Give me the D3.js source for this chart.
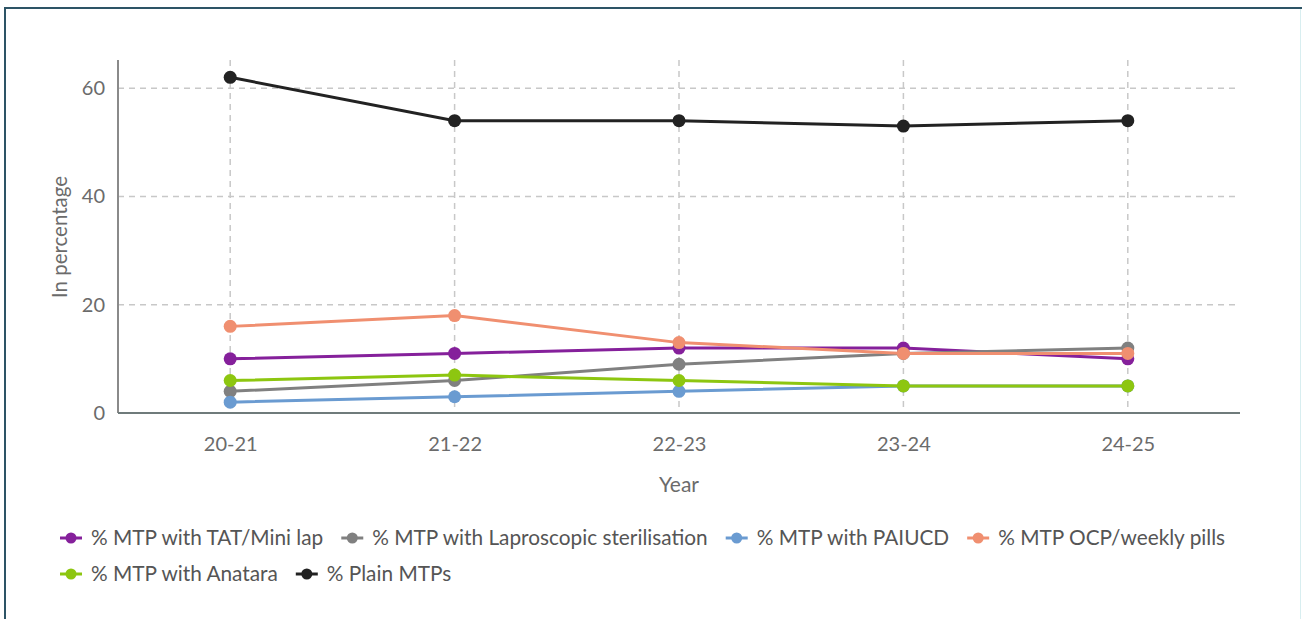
<!DOCTYPE html>
<html><head><meta charset="utf-8">
<script src="https://cdn.jsdelivr.net/npm/d3@7"></script>
<style>
html,body{margin:0;padding:0;background:#fff;}
svg{display:block;font-family:Lato,"Open Sans",sans-serif;}
</style></head>
<body><svg id="c" width="1302" height="619"></svg>
<script>
const years = ["20-21","21-22","22-23","23-24","24-25"];
const seriesNames = ["% MTP with TAT/Mini lap","% MTP with Laproscopic sterilisation","% MTP with PAIUCD","% MTP OCP/weekly pills","% MTP with Anatara","% Plain MTPs"];
const tatMiniLap = [10,11,12,12,10];
const laproscopic = [4,6,9,11,12];
const paiucd = [2,3,4,5,5];
const ocpPills = [16,18,13,11,11];
const anatara = [6,7,6,5,5];
const plainMTPs = [62,54,54,53,54];
const yTicks = [0,20,40,60];
const colors = ["#85209b","#808080","#6a9bd1","#f08f70","#8dc610","#222222"];
const seriesValues = [tatMiniLap,laproscopic,paiucd,ocpPills,anatara,plainMTPs];

const svg = d3.select("#c");
// frame
svg.append("line").attr("x1",5).attr("x2",5).attr("y1",7).attr("y2",619).attr("stroke","#2d5466").attr("stroke-width",2);
svg.append("line").attr("x1",4).attr("x2",1302).attr("y1",8).attr("y2",8).attr("stroke","#2d5466").attr("stroke-width",2);
svg.append("line").attr("x1",1300.5).attr("x2",1300.5).attr("y1",9).attr("y2",619).attr("stroke","#d8eef0").attr("stroke-width",1);

const L=118,R=1240,T=60,B=413;
const x = d3.scalePoint().domain(years).range([L,R]).padding(0.5);
const y = d3.scaleLinear().domain([0,65.2]).range([B,T]);

// grid
svg.append("g").selectAll("line").data(yTicks.filter(d=>d>0)).join("line")
  .attr("x1",L).attr("x2",R).attr("y1",d=>y(d)).attr("y2",d=>y(d))
  .attr("stroke","#c8c8c8").attr("stroke-width",1.5).attr("stroke-dasharray","6,5");
svg.append("g").selectAll("line").data(years).join("line")
  .attr("x1",d=>x(d)).attr("x2",d=>x(d)).attr("y1",T).attr("y2",B)
  .attr("stroke","#c8c8c8").attr("stroke-width",1.5).attr("stroke-dasharray","6,5");

// axes
const ya = svg.append("g").attr("transform",`translate(${L},0)`)
  .call(d3.axisLeft(y).tickValues(yTicks).tickSize(0).tickPadding(13));
ya.select(".domain").remove();
ya.selectAll("text").attr("font-size",20).attr("fill","#6b6b6b").attr("font-family","Lato");
svg.append("line").attr("x1",L).attr("x2",L).attr("y1",T).attr("y2",B).attr("stroke","#8a8a8a").attr("stroke-width",2);

const xa = svg.append("g").attr("transform",`translate(0,${B})`)
  .call(d3.axisBottom(x).tickSize(0).tickPadding(24));
xa.select(".domain").remove();
xa.selectAll("text").attr("font-size",20).attr("fill","#6b6b6b").attr("font-family","Lato");
svg.append("line").attr("x1",L).attr("x2",R).attr("y1",B).attr("y2",B).attr("stroke","#6f7b7b").attr("stroke-width",2);

svg.append("text").attr("x",679).attr("y",492).attr("text-anchor","middle")
  .attr("font-size",21).attr("fill","#6b6b6b").text("Year");
svg.append("text").attr("transform",`translate(67,237) rotate(-90)`).attr("text-anchor","middle")
  .attr("font-size",20.5).attr("fill","#6b6b6b").text("In percentage");

// lines
const line = d3.line().x((d,i)=>x(years[i])).y(d=>y(d));
seriesValues.forEach((vals,k)=>{
  const g = svg.append("g");
  g.append("path").datum(vals).attr("d",line).attr("fill","none")
    .attr("stroke",colors[k]).attr("stroke-width",3);
  g.selectAll("circle").data(vals).join("circle")
    .attr("cx",(d,i)=>x(years[i])).attr("cy",d=>y(d)).attr("r",6.5).attr("fill",colors[k]);
});

// legend
const rows = [[0,1,2,3],[4,5]];
const rowY = [538,574];
rows.forEach((row,ri)=>{
  let cx = 60;
  row.forEach(k=>{
    const g = svg.append("g").attr("transform",`translate(${cx},${rowY[ri]})`);
    g.append("line").attr("x1",0).attr("x2",22).attr("y1",0).attr("y2",0).attr("stroke",colors[k]).attr("stroke-width",3);
    g.append("circle").attr("cx",11).attr("cy",0).attr("r",5.5).attr("fill",colors[k]);
    const t = g.append("text").attr("x",31).attr("y",0).attr("dy","0.35em")
      .attr("font-size",20.8).attr("fill","#555").text(seriesNames[k]);
    const w = t.node().getComputedTextLength();
    cx += 31 + w + 18;
  });
});
</script></body></html>
